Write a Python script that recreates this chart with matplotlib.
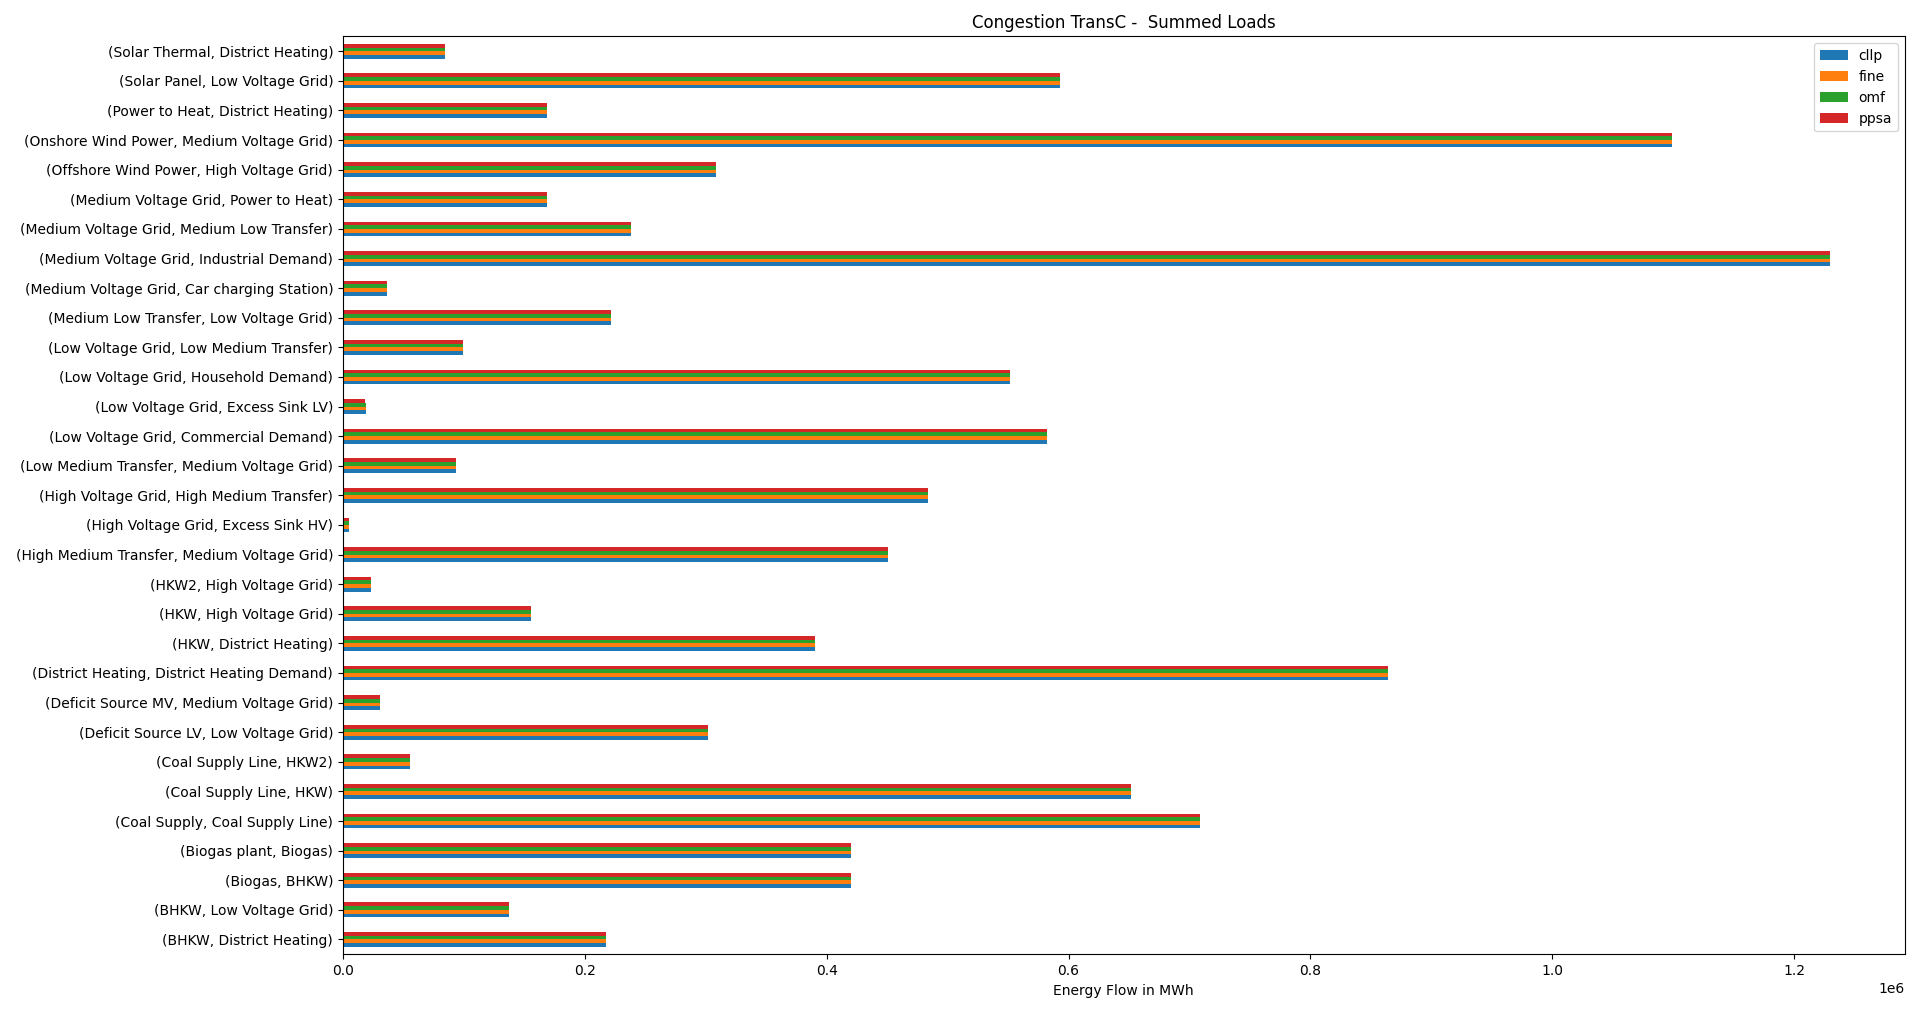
import matplotlib
matplotlib.use('Agg')
import matplotlib.pyplot as plt
import pandas as pd

# (from, to) flows, bottom to top as plotted
flows = [
    '(BHKW, District Heating)', '(BHKW, Low Voltage Grid)', '(Biogas, BHKW)',
    '(Biogas plant, Biogas)', '(Coal Supply, Coal Supply Line)', '(Coal Supply Line, HKW)',
    '(Coal Supply Line, HKW2)', '(Deficit Source LV, Low Voltage Grid)',
    '(Deficit Source MV, Medium Voltage Grid)', '(District Heating, District Heating Demand)',
    '(HKW, District Heating)', '(HKW, High Voltage Grid)', '(HKW2, High Voltage Grid)',
    '(High Medium Transfer, Medium Voltage Grid)', '(High Voltage Grid, Excess Sink HV)',
    '(High Voltage Grid, High Medium Transfer)', '(Low Medium Transfer, Medium Voltage Grid)',
    '(Low Voltage Grid, Commercial Demand)', '(Low Voltage Grid, Excess Sink LV)',
    '(Low Voltage Grid, Household Demand)', '(Low Voltage Grid, Low Medium Transfer)',
    '(Medium Low Transfer, Low Voltage Grid)', '(Medium Voltage Grid, Car charging Station)',
    '(Medium Voltage Grid, Industrial Demand)', '(Medium Voltage Grid, Medium Low Transfer)',
    '(Medium Voltage Grid, Power to Heat)', '(Offshore Wind Power, High Voltage Grid)',
    '(Onshore Wind Power, Medium Voltage Grid)', '(Power to Heat, District Heating)',
    '(Solar Panel, Low Voltage Grid)', '(Solar Thermal, District Heating)',
]

loads = [
    217600, 137700, 420000, 420000, 708500, 652000, 55700, 301600, 30400, 864400,
    390700, 155900, 23300, 450400, 5000, 483800, 93100, 582000, 19200, 551600,
    99200, 221700, 36400, 1229800, 237900, 169000, 308700, 1099200, 169000,
    593100, 84000,
]
cllp = loads
fine = loads
omf = loads
ppsa = [v if v != 19200 else 18500 for v in loads]

df = pd.DataFrame({'cllp': cllp, 'fine': fine, 'omf': omf, 'ppsa': ppsa}, index=flows)

fig = plt.figure(figsize=(19.2, 10.13), dpi=100)
ax = fig.add_axes([0.1786, 0.058, 0.8134, 0.906])
df.plot.barh(ax=ax)
ax.set_title('Congestion TransC -  Summed Loads')
ax.set_xlabel('Energy Flow in MWh')
ax.legend(loc='upper right')
fig.savefig('out.png')
